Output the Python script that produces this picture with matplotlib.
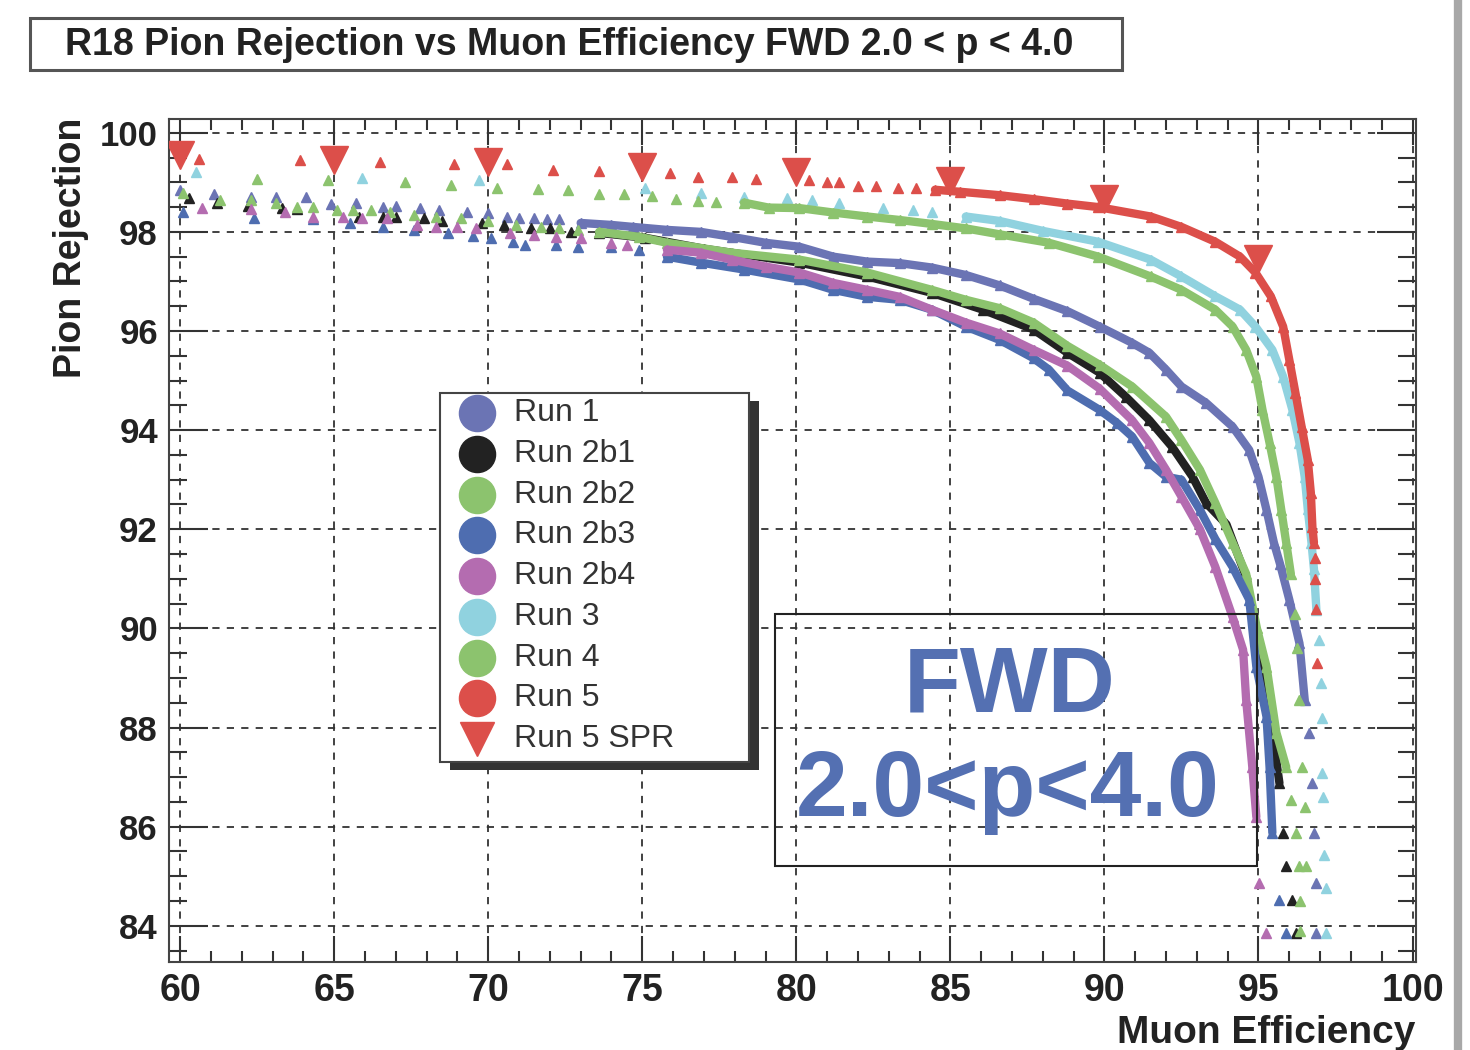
import numpy as np
import matplotlib
matplotlib.use("Agg")
import matplotlib.pyplot as plt
from matplotlib.patches import Rectangle
from matplotlib.lines import Line2D
from matplotlib.ticker import MultipleLocator

plt.rcParams['font.family'] = ['Liberation Sans', 'DejaVu Sans']

TITLE = "R18 Pion Rejection vs Muon Efficiency FWD 2.0 < p < 4.0"
XLABEL = "Muon Efficiency"
YLABEL = "Pion Rejection"

# ---- data (muon efficiency %, pion rejection %) ----
run1_x = [60.0, 61.1, 62.3, 63.1, 64.1, 64.9, 65.7, 66.6, 67.0, 67.8, 68.4, 69.3, 70.0, 70.6, 71.0,
          71.5, 71.9, 72.3, 73.0, 74.0, 74.7, 75.8, 76.9, 77.9, 79.0, 80.1, 81.2, 82.3, 83.35, 84.4,
          85.5, 86.6, 87.7, 88.8, 89.84, 90.9, 91.46, 92.0, 92.5, 93.3, 94.16, 94.7, 95.0, 95.26, 95.5,
          95.7, 96.0, 96.33, 96.5, 96.65, 96.75, 96.8, 96.87, 96.87]
run1_y = [98.85, 98.77, 98.70, 98.70, 98.70, 98.57, 98.59, 98.51, 98.53, 98.49, 98.45, 98.41, 98.38, 98.31, 98.29,
          98.29, 98.25, 98.25, 98.18, 98.14, 98.10, 98.04, 98.00, 97.90, 97.78, 97.70, 97.50, 97.40, 97.37, 97.28,
          97.13, 96.92, 96.65, 96.40, 96.09, 95.76, 95.56, 95.22, 94.88, 94.55, 94.07, 93.60, 93.06, 92.39, 91.73,
          91.30, 90.58, 89.70, 88.56, 87.90, 86.88, 85.88, 84.87, 83.86]

run2b1_x = [60.3, 61.2, 62.2, 63.3, 63.8, 65.8, 66.6, 67.0, 67.9, 68.5, 69.8, 70.5, 71.4, 72.0, 72.7,
            73.6, 75.1, 77.0, 80.1, 82.3, 84.4, 86.05, 87.7, 88.8, 89.84, 90.7, 91.46, 92.2, 92.86, 93.3,
            93.96, 94.6, 94.93, 95.26, 95.45, 95.68, 95.78, 95.9, 96.1, 96.23]
run2b1_y = [98.68, 98.59, 98.53, 98.49, 98.47, 98.31, 98.31, 98.31, 98.29, 98.22, 98.18, 98.14, 98.08, 98.08, 98.00,
            97.98, 97.88, 97.66, 97.38, 97.10, 96.77, 96.43, 96.03, 95.56, 95.16, 94.67, 94.20, 93.66, 93.06, 92.53,
            92.10, 91.04, 89.77, 88.90, 87.90, 86.88, 85.88, 85.20, 84.52, 83.86]

run2b2_x = [60.1, 61.3, 62.3, 63.1, 63.8, 64.3, 65.1, 65.6, 66.2, 66.8, 67.6, 68.3, 69.1, 70.0, 70.9,
            71.7, 72.3, 72.9, 73.6, 74.9, 75.8, 77.9, 80.1, 82.3, 84.4, 85.5, 86.6, 87.7, 88.8, 89.84,
            90.9, 92.0, 92.5, 93.1, 93.6, 94.16, 94.6, 94.95, 95.26, 95.58, 95.9, 96.07, 96.23, 96.33,
            96.35, 96.35]
run2b2_y = [98.79, 98.65, 98.65, 98.59, 98.51, 98.51, 98.45, 98.45, 98.45, 98.41, 98.35, 98.31, 98.29, 98.22, 98.14,
            98.10, 98.08, 98.04, 98.00, 97.90, 97.78, 97.58, 97.44, 97.18, 96.83, 96.63, 96.46, 96.17, 95.70, 95.32,
            94.88, 94.27, 93.80, 93.20, 92.53, 91.73, 91.10, 90.00, 89.23, 87.90, 87.20, 86.54, 85.88, 85.20,
            84.50, 83.90]

run2b3_x = [60.1, 62.4, 64.3, 65.5, 66.6, 67.6, 68.7, 69.5, 70.1, 70.8, 71.2, 72.2, 72.9, 74.0, 74.9,
            75.8, 76.9, 78.3, 80.1, 81.2, 82.3, 83.35, 84.4, 85.5, 86.6, 87.7, 88.2, 88.8, 89.84, 90.4,
            90.9, 91.46, 92.0, 92.5, 93.1, 93.6, 94.16, 94.7, 94.93, 95.26, 95.36, 95.45, 95.68, 95.9]
run2b3_y = [98.40, 98.29, 98.25, 98.18, 98.10, 98.04, 97.98, 97.92, 97.88, 97.80, 97.74, 97.74, 97.70, 97.70, 97.64,
            97.50, 97.38, 97.24, 97.04, 96.83, 96.69, 96.63, 96.43, 96.09, 95.82, 95.45, 95.22, 94.80, 94.41, 94.15,
            93.87, 93.34, 93.06, 93.00, 92.39, 91.80, 91.24, 90.58, 89.23, 88.22, 87.20, 85.88, 84.52, 83.86]

run2b4_x = [60.7, 62.3, 63.4, 64.3, 65.3, 65.9, 66.7, 67.7, 68.3, 69.0, 69.6, 70.7, 71.5, 72.2, 73.0,
            74.0, 74.5, 75.8, 76.9, 77.9, 79.0, 80.1, 81.2, 82.3, 83.35, 84.4, 85.5, 86.6, 87.7, 88.8,
            89.84, 90.9, 91.46, 92.0, 92.5, 93.1, 93.6, 94.16, 94.5, 94.6, 94.8, 94.93, 95.03, 95.26]
run2b4_y = [98.49, 98.47, 98.41, 98.31, 98.31, 98.29, 98.29, 98.14, 98.10, 98.10, 98.08, 97.98, 97.94, 97.90, 97.88,
            97.78, 97.74, 97.64, 97.58, 97.44, 97.30, 97.18, 96.97, 96.83, 96.69, 96.43, 96.17, 95.95, 95.62, 95.30,
            94.84, 94.20, 93.74, 93.20, 92.66, 92.00, 91.24, 90.23, 89.57, 88.56, 87.20, 86.20, 84.87, 83.86]

run3_x = [60.5, 65.9, 69.7, 75.1, 76.9, 78.3, 79.7, 80.5, 81.4, 82.8, 83.8, 84.4, 85.5, 86.6, 88.0,
          89.8, 91.5, 92.5, 93.6, 94.4, 94.9, 95.45, 95.8, 96.1, 96.33, 96.5, 96.6, 96.72, 96.8, 96.88,
          96.98, 97.04, 97.05, 97.07, 97.1, 97.14, 97.2, 97.2]
run3_y = [99.20, 99.09, 99.04, 98.89, 98.79, 98.71, 98.69, 98.65, 98.59, 98.49, 98.45, 98.41, 98.31, 98.22, 98.02,
          97.80, 97.44, 97.10, 96.70, 96.43, 96.09, 95.62, 95.08, 94.41, 93.74, 93.06, 92.40, 91.73, 91.20, 90.37,
          89.77, 88.90, 88.20, 87.08, 86.60, 85.43, 84.77, 83.86]

run4_x = [62.5, 64.8, 67.3, 68.8, 70.3, 71.6, 72.6, 73.6, 74.4, 75.3, 76.1, 76.8, 77.4, 78.3, 79.1,
          80.1, 81.2, 82.3, 83.35, 84.4, 85.5, 86.6, 88.2, 89.8, 91.5, 92.5, 93.6, 94.16, 94.6, 94.93,
          95.13, 95.36, 95.58, 95.74, 95.9, 96.05, 96.2, 96.25, 96.33, 96.4, 96.5, 96.55]
run4_y = [99.07, 99.04, 99.00, 98.95, 98.89, 98.87, 98.84, 98.77, 98.77, 98.72, 98.67, 98.63, 98.61, 98.59, 98.49,
          98.48, 98.39, 98.31, 98.24, 98.16, 98.07, 97.95, 97.78, 97.50, 97.10, 96.83, 96.43, 96.09, 95.62, 95.08,
          94.41, 93.74, 93.06, 92.39, 91.73, 91.10, 90.30, 89.60, 88.56, 87.20, 86.40, 85.20]

run5_x = [60.6, 63.9, 66.5, 68.9, 70.6, 72.1, 73.6, 75.9, 76.8, 77.9, 78.7, 80.4, 81.0, 81.4, 82.0,
          82.6, 83.3, 83.9, 84.5, 85.3, 86.6, 87.7, 88.8, 89.8, 91.5, 92.5, 93.6, 94.4, 94.9, 95.4,
          95.8, 96.0, 96.2, 96.4, 96.6, 96.7, 96.75, 96.8, 96.82, 96.84, 96.87, 96.9]
run5_y = [99.48, 99.44, 99.40, 99.37, 99.37, 99.25, 99.22, 99.19, 99.11, 99.11, 99.07, 99.05, 99.00, 99.01, 98.93,
          98.93, 98.89, 98.89, 98.85, 98.81, 98.74, 98.66, 98.57, 98.50, 98.31, 98.10, 97.80, 97.50, 97.18, 96.70,
          96.09, 95.42, 94.75, 94.07, 93.40, 92.73, 92.05, 91.73, 91.42, 91.00, 90.40, 89.30]

spr_x = [60, 65, 70, 75, 80, 85, 90, 95]
spr_y = [99.55, 99.45, 99.40, 99.30, 99.20, 99.02, 98.66, 97.45]

legend_labels = ["Run 1", "Run 2b1", "Run 2b2", "Run 2b3", "Run 2b4", "Run 3", "Run 4", "Run 5", "Run 5 SPR"]

# colours, plus where each curve becomes a dense band (x from, y down to)
C_RUN1, C_2B1, C_2B2, C_2B3 = '#6b74b4', '#222222', '#8cc36e', '#4e6db0'
C_2B4, C_RUN3, C_RUN4, C_RUN5 = '#b46cb0', '#90d2df', '#8cc36e', '#dc4f4a'

series = [
    (run1_x, run1_y, C_RUN1, 73.0, 88.0),
    (run2b1_x, run2b1_y, C_2B1, 73.0, 86.5),
    (run2b2_x, run2b2_y, C_2B2, 73.0, 87.0),
    (run2b3_x, run2b3_y, C_2B3, 75.0, 84.8),
    (run2b4_x, run2b4_y, C_2B4, 75.0, 86.0),
    (run3_x, run3_y, C_RUN3, 85.0, 90.3),
    (run4_x, run4_y, C_RUN4, 78.0, 90.5),
    (run5_x, run5_y, C_RUN5, 84.5, 91.7),
]

fig = plt.figure(figsize=(14.7, 10.5), dpi=100, facecolor='white')
ax = fig.add_axes([0.115, 0.0838, 0.848, 0.803])
ax.set_xlim(59.64, 100.1)
ax.set_ylim(83.27, 100.28)

for xs, ys, color, x0, y0 in series:
    xs = np.asarray(xs)
    ys = np.asarray(ys)
    dense = (xs >= x0) & (ys >= y0)
    ax.plot(xs[dense], ys[dense], color=color, lw=6, solid_joinstyle='round',
            solid_capstyle='round', zorder=3)
    ax.plot(xs, ys, ls='none', marker='^', ms=7, color=color, mec=color, zorder=3)

ax.plot(spr_x, spr_y, ls='none', marker='v', ms=20, color=C_RUN5, mec=C_RUN5, zorder=5)

# ROOT style axes
ax.xaxis.set_major_locator(MultipleLocator(5))
ax.xaxis.set_minor_locator(MultipleLocator(1))
ax.yaxis.set_major_locator(MultipleLocator(2))
ax.yaxis.set_minor_locator(MultipleLocator(0.5))
ax.tick_params(which='both', direction='in', top=True, right=True, color='#333333',
               width=1.5, labelcolor='#222222')
ax.tick_params(axis='x', which='major', length=19, labelsize=27, pad=8)
ax.tick_params(axis='x', which='minor', length=8)
ax.tick_params(axis='y', which='major', length=28, labelsize=25, pad=8)
ax.tick_params(axis='y', which='minor', length=13)
for lab in ax.get_xticklabels() + ax.get_yticklabels():
    lab.set_fontweight('bold')
ax.grid(True, which='major', ls=(0, (4, 4)), color='#333333', lw=1.3)
ax.set_axisbelow(True)
for sp in ax.spines.values():
    sp.set_linewidth(1.5)
    sp.set_color('#444444')

fig.text(0.048, 0.888, YLABEL, rotation=90, ha='center', va='top',
         fontsize=27, fontweight='bold', color='#222222')
fig.text(0.963, 0.0067, XLABEL, ha='right', va='baseline',
         fontsize=28, fontweight='bold', color='#222222')

# title box
fig.add_artist(Rectangle((0.0204, 0.9333), 0.743, 0.0496, transform=fig.transFigure,
                         facecolor='white', edgecolor='#555555', lw=2.2))
fig.text(0.044, 0.957, TITLE, ha='left', va='center', fontsize=27, fontweight='bold',
         color='#222222')

# legend box with shadow
lx0, lx1, ly0, ly1 = 0.2173, 0.465, 0.2372, 0.675
ax.add_patch(Rectangle((lx0 + 0.008, ly0 - 0.0095), lx1 - lx0, ly1 - ly0, transform=ax.transAxes,
                       facecolor='#333333', edgecolor='none', zorder=6))
ax.add_patch(Rectangle((lx0, ly0), lx1 - lx0, ly1 - ly0, transform=ax.transAxes,
                       facecolor='white', edgecolor='#444444', lw=1.5, zorder=7))
leg_colors = [C_RUN1, C_2B1, C_2B2, C_2B3, C_2B4, C_RUN3, C_RUN4, C_RUN5, C_RUN5]
leg_markers = ['o'] * 8 + ['v']
for i, (lab, col, mk) in enumerate(zip(legend_labels, leg_colors, leg_markers)):
    yy = 0.651 - i * 0.04834
    ax.plot([0.247], [yy], transform=ax.transAxes, marker=mk, ms=26 if mk == 'o' else 25,
            color=col, mec=col, ls='none', zorder=8, clip_on=False)
    ax.text(0.2767, yy, lab, transform=ax.transAxes, ha='left', va='center',
            fontsize=23, color='#333333', zorder=8)

# FWD label box
ax.add_patch(Rectangle((0.486, 0.1139), 0.3865, 0.2989, transform=ax.transAxes,
                       facecolor='none', edgecolor='#222222', lw=1.5, zorder=4))
ax.text(0.6744, 0.325, "FWD", transform=ax.transAxes, ha='center', va='center',
        fontsize=67, fontweight='bold', color='#5470b2', zorder=4)
ax.text(0.6728, 0.2017, "2.0<p<4.0", transform=ax.transAxes, ha='center', va='center',
        fontsize=67, fontweight='bold', color='#5470b2', zorder=4)

# torn paper edge on the right
fig.add_artist(Line2D([0.992, 0.992], [0, 1], transform=fig.transFigure, color='#a8a8a8', lw=6))

fig.savefig('out.png', dpi=100, facecolor='white')
